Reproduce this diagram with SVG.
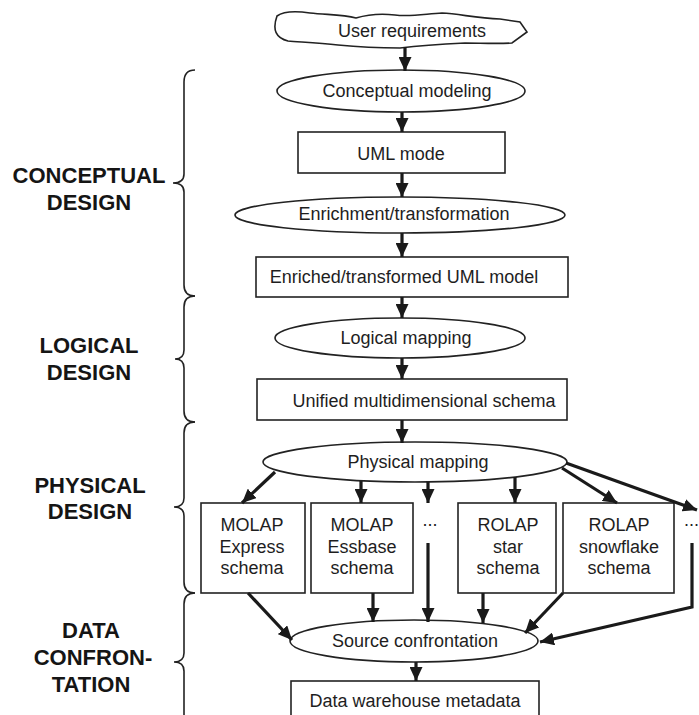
<svg xmlns="http://www.w3.org/2000/svg" width="699" height="715" viewBox="0 0 699 715">
  <style>
    .node { fill: #ffffff; stroke: #222222; stroke-width: 1.6; }
    .label { font-family: "Liberation Sans", Arial, sans-serif; font-size: 18px; fill: #1e1e1e; text-anchor: middle; }
    .phase { font-family: "Liberation Sans", Arial, sans-serif; font-size: 22px; font-weight: bold; fill: #151515; text-anchor: middle; }
    .brace { fill: none; stroke: #222222; stroke-width: 1.6; }
    .flow { fill: none; stroke: #1a1a1a; stroke-width: 3.2; marker-end: url(#head); }
  </style>
  <defs>
    <marker id="head" markerUnits="userSpaceOnUse" viewBox="0 0 14 13" refX="14" refY="6.5" markerWidth="14" markerHeight="13" orient="auto">
      <path d="M0,0 L14,6.5 L0,13 z" fill="#1a1a1a"/>
    </marker>
  </defs>
  <rect width="699" height="715" fill="#ffffff"/>

  <!-- phase labels -->
  <g id="phase-labels">
    <text class="phase" x="89" y="183">CONCEPTUAL</text>
    <text class="phase" x="89" y="210">DESIGN</text>
    <text class="phase" x="89" y="353">LOGICAL</text>
    <text class="phase" x="89" y="380">DESIGN</text>
    <text class="phase" x="90" y="493">PHYSICAL</text>
    <text class="phase" x="90" y="519">DESIGN</text>
    <text class="phase" x="91" y="638">DATA</text>
    <text class="phase" x="93" y="665">CONFRON-</text>
    <text class="phase" x="91" y="692">TATION</text>
  </g>

  <!-- curly braces grouping the phases -->
  <g id="braces">
    <path class="brace" d="M195,70 Q184,70 184,82 L184,174 Q184,183 173,183 Q184,183 184,192 L184,285 Q184,296 195,296"/>
    <path class="brace" d="M195,296 Q184,296 184,307 L184,350 Q184,359 175,359 Q184,359 184,368 L184,411 Q184,422 195,422"/>
    <path class="brace" d="M195,422 Q184,422 184,433 L184,498 Q184,507 174,507 Q184,507 184,516 L184,582 Q184,593 195,593"/>
    <path class="brace" d="M195,593 Q184,593 184,604 L184,653 Q184,662 174,662 Q184,662 184,671 L184,720"/>
  </g>

  <!-- nodes -->
  <g id="user-requirements">
    <path class="node" d="M277,16 C284,11 296,11 310,13 C326,15 342,14 356,18 C366,15 378,13 395,15 C410,17 425,14 442,13 C460,14 476,18 500,19 L520,22 L527,32 L512,43 C496,44 480,43 465,43 C445,44 425,45 400,48 C380,48 358,47 338,45 C318,43 300,42 288,41 C276,38 272,30 277,16 Z"/>
    <text class="label" x="412" y="37">User requirements</text>
  </g>
  <g id="conceptual-modeling">
    <ellipse class="node" cx="401" cy="91" rx="124" ry="21"/>
    <text class="label" x="407" y="97">Conceptual modeling</text>
  </g>
  <g id="uml-mode">
    <rect class="node" x="298" y="132" width="207" height="41"/>
    <text class="label" x="401" y="160">UML mode</text>
  </g>
  <g id="enrichment">
    <ellipse class="node" cx="400" cy="215" rx="165" ry="18"/>
    <text class="label" x="404" y="220">Enrichment/transformation</text>
  </g>
  <g id="enriched-model">
    <rect class="node" x="256" y="257" width="312" height="40"/>
    <text class="label" x="404" y="283">Enriched/transformed UML model</text>
  </g>
  <g id="logical-mapping">
    <ellipse class="node" cx="400" cy="338" rx="125" ry="20"/>
    <text class="label" x="406" y="344">Logical mapping</text>
  </g>
  <g id="unified-schema">
    <rect class="node" x="257" y="379" width="310" height="41"/>
    <text class="label" x="424" y="407">Unified multidimensional schema</text>
  </g>
  <g id="physical-mapping">
    <ellipse class="node" cx="415" cy="462" rx="152" ry="20"/>
    <text class="label" x="418" y="468">Physical mapping</text>
  </g>
  <g id="molap-express">
    <rect class="node" x="201" y="503" width="104" height="90"/>
    <text class="label" x="252" y="531">MOLAP</text>
    <text class="label" x="252" y="553">Express</text>
    <text class="label" x="252" y="574">schema</text>
  </g>
  <g id="molap-essbase">
    <rect class="node" x="311" y="503" width="102" height="90"/>
    <text class="label" x="362" y="531">MOLAP</text>
    <text class="label" x="362" y="553">Essbase</text>
    <text class="label" x="362" y="574">schema</text>
  </g>
  <g id="more-molap">
    <text class="label" x="430" y="526">...</text>
  </g>
  <g id="rolap-star">
    <rect class="node" x="458" y="503" width="98" height="90"/>
    <text class="label" x="508" y="531">ROLAP</text>
    <text class="label" x="508" y="553">star</text>
    <text class="label" x="508" y="574">schema</text>
  </g>
  <g id="rolap-snowflake">
    <rect class="node" x="563" y="503" width="111" height="90"/>
    <text class="label" x="619" y="531">ROLAP</text>
    <text class="label" x="619" y="553">snowflake</text>
    <text class="label" x="619" y="574">schema</text>
  </g>
  <g id="more-rolap">
    <text class="label" x="684" y="526" style="text-anchor:start">...</text>
  </g>
  <g id="source-confrontation">
    <ellipse class="node" cx="414" cy="641" rx="124" ry="21"/>
    <text class="label" x="415" y="647">Source confrontation</text>
  </g>
  <g id="dw-metadata">
    <rect class="node" x="291" y="681" width="248" height="40"/>
    <text class="label" x="415" y="707">Data warehouse metadata</text>
  </g>

  <!-- connectors -->
  <g id="connectors">
    <line class="flow" x1="405" y1="47" x2="405" y2="71"/>
    <line class="flow" x1="402" y1="112" x2="402" y2="132"/>
    <line class="flow" x1="402" y1="173" x2="402" y2="197"/>
    <line class="flow" x1="402" y1="233" x2="402" y2="257"/>
    <line class="flow" x1="402" y1="297" x2="402" y2="318"/>
    <line class="flow" x1="402" y1="358" x2="402" y2="379"/>
    <line class="flow" x1="402" y1="420" x2="402" y2="443"/>

    <line class="flow" x1="275" y1="472" x2="242" y2="503"/>
    <line class="flow" x1="361" y1="481" x2="361" y2="503"/>
    <line class="flow" x1="428" y1="482" x2="428" y2="503"/>
    <line class="flow" x1="515" y1="477" x2="515" y2="503"/>
    <line class="flow" x1="562" y1="468" x2="617" y2="503"/>
    <line class="flow" x1="566" y1="463" x2="697" y2="510"/>

    <line class="flow" x1="248" y1="593" x2="292" y2="640"/>
    <line class="flow" x1="373" y1="593" x2="373" y2="622"/>
    <line class="flow" x1="428" y1="543" x2="428" y2="622"/>
    <line class="flow" x1="483" y1="593" x2="483" y2="623"/>
    <line class="flow" x1="563" y1="593" x2="525" y2="633"/>
    <polyline class="flow" points="692,543 692,607 540,642"/>
    <line class="flow" x1="416" y1="662" x2="416" y2="681"/>
  </g>
</svg>
